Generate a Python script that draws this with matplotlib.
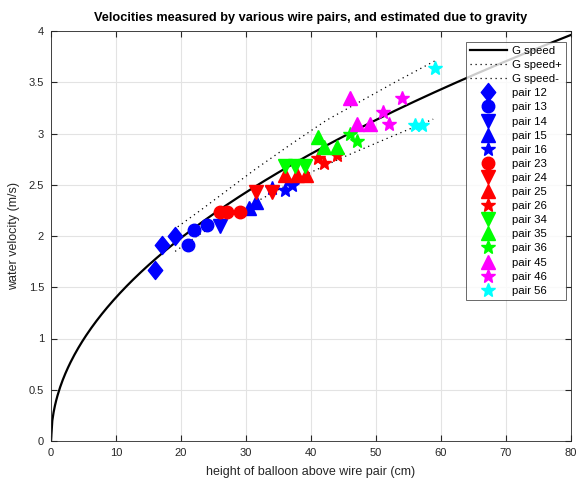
import numpy as np
import matplotlib
matplotlib.use("Agg")
import matplotlib.pyplot as plt
from matplotlib.path import Path

plt.rcParams['font.family'] = ['Liberation Sans', 'DejaVu Sans']

# gravity model: v = sqrt(2 g h)
g = 9.81
h_model = np.linspace(0, 80, 400)

# upper / lower bound curves (height cm, velocity m/s)
h_plus = [19.5, 23.2, 31.4, 36.8, 42.4, 52.9, 59.1]
v_plus = [2.09, 2.26, 2.65, 2.89, 3.13, 3.50, 3.71]
h_minus = [19.1, 22.7, 30.0, 39.6, 45.0, 52.0, 58.8]
v_minus = [1.85, 2.01, 2.28, 2.61, 2.77, 2.96, 3.14]

# measured velocities per wire pair: (heights cm, velocities m/s)
pair12_h = [16, 17, 19];        pair12_v = [1.67, 1.91, 2.00]
pair13_h = [21, 22, 24];        pair13_v = [1.91, 2.06, 2.11]
pair14_h = [26];                pair14_v = [2.10]
pair15_h = [30.5, 31.5];        pair15_v = [2.27, 2.33]
pair16_h = [34, 36, 37];        pair16_v = [2.47, 2.45, 2.50]
pair23_h = [26, 27, 29];        pair23_v = [2.23, 2.23, 2.23]
pair24_h = [31.5, 34];          pair24_v = [2.43, 2.43]
pair25_h = [36, 37.8, 39.3];    pair25_v = [2.60, 2.60, 2.60]
pair26_h = [41, 42, 44];        pair26_v = [2.76, 2.71, 2.79]
pair34_h = [36, 37.5, 39];      pair34_v = [2.68, 2.68, 2.68]
pair35_h = [41, 42, 44];        pair35_v = [2.97, 2.87, 2.87]
pair36_h = [46, 47];            pair36_v = [3.00, 2.93]
pair45_h = [46, 47, 49];        pair45_v = [3.35, 3.09, 3.09]
pair46_h = [51, 52, 54];        pair46_v = [3.21, 3.09, 3.35]
pair56_h = [56, 57, 59];        pair56_v = [3.08, 3.08, 3.64]

# diamond a little taller than wide
diamond = Path([(0, 1), (0.8, 0), (0, -1), (-0.8, 0), (0, 1)],
               [Path.MOVETO, Path.LINETO, Path.LINETO, Path.LINETO, Path.CLOSEPOLY])

series = [
    ("pair 12", pair12_h, pair12_v, 'b', diamond, 13),
    ("pair 13", pair13_h, pair13_v, 'b', 'o', 9),
    ("pair 14", pair14_h, pair14_v, 'b', 'v', 10),
    ("pair 15", pair15_h, pair15_v, 'b', '^', 10),
    ("pair 16", pair16_h, pair16_v, 'b', '*', 10),
    ("pair 23", pair23_h, pair23_v, 'r', 'o', 9),
    ("pair 24", pair24_h, pair24_v, 'r', 'v', 10),
    ("pair 25", pair25_h, pair25_v, 'r', '^', 10),
    ("pair 26", pair26_h, pair26_v, 'r', '*', 10),
    ("pair 34", pair34_h, pair34_v, 'lime', 'v', 10),
    ("pair 35", pair35_h, pair35_v, 'lime', '^', 10),
    ("pair 36", pair36_h, pair36_v, 'lime', '*', 10),
    ("pair 45", pair45_h, pair45_v, 'magenta', '^', 10),
    ("pair 46", pair46_h, pair46_v, 'magenta', '*', 10),
    ("pair 56", pair56_h, pair56_v, 'cyan', '*', 10),
]

fig = plt.figure(figsize=(5.78, 4.80), dpi=100)
ax = fig.add_axes([51/578, 1-441/480, 520/578, 410/480])

ax.plot(h_model, np.sqrt(2*g*h_model/100), color='k', lw=1.6, label='G speed')
ax.plot(h_plus, v_plus, color='k', lw=0.9, ls=(0, (1, 3)), label='G speed+')
ax.plot(h_minus, v_minus, color='k', lw=0.9, ls=(0, (1, 3)), label='G speed-')

for name, hs, vs, c, m, ms in series:
    ax.plot(hs, vs, ls='none', marker=m, ms=ms, color=c, mec=c, label=name)

ax.set_xlim(0, 80)
ax.set_ylim(0, 4)
ax.set_xticks(np.arange(0, 81, 10))
ax.set_yticks(np.arange(0, 4.01, 0.5))
ax.set_yticklabels(['0', '0.5', '1', '1.5', '2', '2.5', '3', '3.5', '4'])
ax.grid(True, color='#e3e3e3', lw=0.8)
ax.set_axisbelow(True)
ax.tick_params(direction='in', length=4, top=True, right=True,
               labelsize=8, colors='#262626', pad=5)
for s in ax.spines.values():
    s.set_color('#262626')
    s.set_linewidth(0.6)

ax.set_xlabel('height of balloon above wire pair (cm)', fontsize=9,
              color='#262626', labelpad=6)
ax.set_ylabel('water velocity (m/s)', fontsize=9, color='#262626', labelpad=6)
ax.set_title('Velocities measured by various wire pairs, and estimated due to gravity',
             fontsize=9.2, fontweight='bold', pad=7)

leg = ax.legend(loc='upper right', bbox_to_anchor=(0.9904, 0.973), fontsize=8.2,
                frameon=True, fancybox=False, edgecolor='#262626',
                handlelength=3.3, labelspacing=0.36, borderpad=0.35,
                handletextpad=0.45, borderaxespad=0)
leg.get_frame().set_linewidth(0.6)

fig.savefig('out.png', dpi=100)
